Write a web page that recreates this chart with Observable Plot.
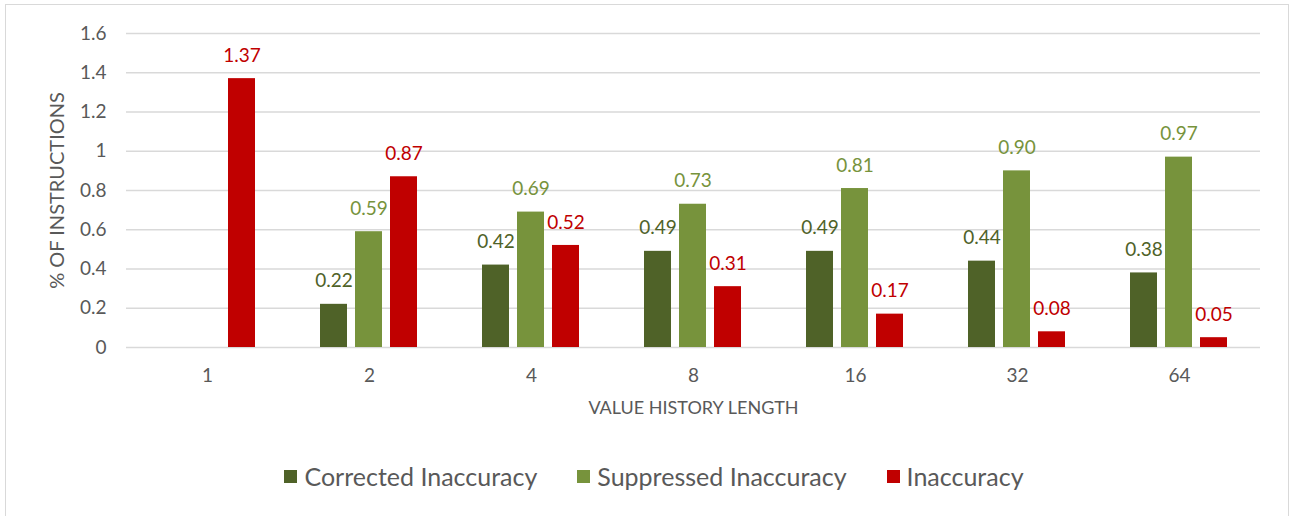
<!DOCTYPE html>
<html>
<head>
<meta charset="utf-8">
<script src="https://cdn.jsdelivr.net/npm/d3@7"></script>
<script src="https://cdn.jsdelivr.net/npm/@observablehq/plot@0.6"></script>
<style>
  html, body { margin: 0; padding: 0; background: #fff; }
  body { width: 1295px; height: 516px; position: relative; overflow: hidden; font-family: Lato, "Open Sans", sans-serif; }
  #frame { position: absolute; left: 5px; top: 4px; width: 1284px; height: 520px; border: 1px solid #d9d9d9; box-sizing: border-box; pointer-events: none; }
  #chart { position: absolute; left: 0; top: 0; }
  #legend { position: absolute; left: 0; width: 1295px; top: 461px; display: flex; justify-content: center; gap: 40px; padding-left: 13px; box-sizing: border-box; color: #595959; font-size: 25px; }
  #legend .item { display: flex; align-items: center; }
  #legend .sw { width: 13px; height: 13px; margin-right: 7px; }
</style>
</head>
<body>
<div id="chart"></div>
<div id="legend"></div>
<div id="frame"></div>
<script>
const categories = ["1", "2", "4", "8", "16", "32", "64"];
const seriesNames = ["Corrected Inaccuracy", "Suppressed Inaccuracy", "Inaccuracy"];
const seriesColors = ["#4F6228", "#77933C", "#C00000"];
const corrected = [null, 0.22, 0.42, 0.49, 0.49, 0.44, 0.38];
const suppressed = [null, 0.59, 0.69, 0.73, 0.81, 0.90, 0.97];
const inaccuracy = [1.37, 0.87, 0.52, 0.31, 0.17, 0.08, 0.05];
const yTicks = [0, 0.2, 0.4, 0.6, 0.8, 1, 1.2, 1.4, 1.6];
const yTitle = "% OF INSTRUCTIONS";
const xTitle = "VALUE HISTORY LENGTH";

const seriesValues = [corrected, suppressed, inaccuracy];
const data = [];
categories.forEach((c, i) => {
  seriesNames.forEach((s, j) => {
    const v = seriesValues[j][i];
    if (v != null) data.push({cat: c, series: s, value: v});
  });
});

const fmt = d3.format(".2f");
const textColor = "#595959";

const plot = Plot.plot({
  width: 1295,
  height: 430,
  marginLeft: 123,
  marginRight: 33,
  marginTop: 33,
  marginBottom: 83,
  style: {fontFamily: "Lato, 'Open Sans', sans-serif", fontSize: "19px", color: textColor, background: "transparent"},
  fx: {domain: categories, padding: 0},
  x: {domain: seriesNames, paddingInner: 0.222, paddingOuter: 0.87, axis: null},
  y: {domain: [0, 1.6]},
  color: {domain: seriesNames, range: seriesColors},
  marks: [
    Plot.gridY(yTicks, {stroke: "#d9d9d9", strokeOpacity: 1, strokeWidth: 1.5}),
    Plot.axisY(yTicks, {
      tickSize: 0, tickPadding: 20, tickFormat: d3.format(".1~f"),
      fill: textColor,
      label: yTitle, labelAnchor: "center", labelOffset: 77, labelArrow: "none"
    }),
    Plot.axisFx({
      anchor: "bottom",
      tickSize: 0, tickPadding: 21, fill: textColor,
      label: xTitle, labelAnchor: "center", labelOffset: 66, labelArrow: "none"
    }),
    Plot.barY(data, {fx: "cat", x: "series", y: "value", fill: "series"}),
    Plot.text(data, {
      fx: "cat", x: "series", y: "value", text: d => fmt(d.value),
      fill: "series", fontSize: 19, lineAnchor: "middle", dy: -23
    })
  ]
});
document.getElementById("chart").appendChild(plot);

// axis title font sizes
plot.querySelectorAll("text").forEach(t => {
  if (t.textContent === yTitle) {
    t.setAttribute("font-size", "20");
    t.style.fontSize = "20px";
  } else if (t.textContent === xTitle) {
    t.setAttribute("font-size", "18");
    t.style.fontSize = "18px";
  }
});

const legend = document.getElementById("legend");
seriesNames.forEach((s, j) => {
  const item = document.createElement("div");
  item.className = "item";
  const sw = document.createElement("span");
  sw.className = "sw";
  sw.style.background = seriesColors[j];
  const lab = document.createElement("span");
  lab.textContent = s;
  item.appendChild(sw);
  item.appendChild(lab);
  legend.appendChild(item);
});
</script>
</body>
</html>
